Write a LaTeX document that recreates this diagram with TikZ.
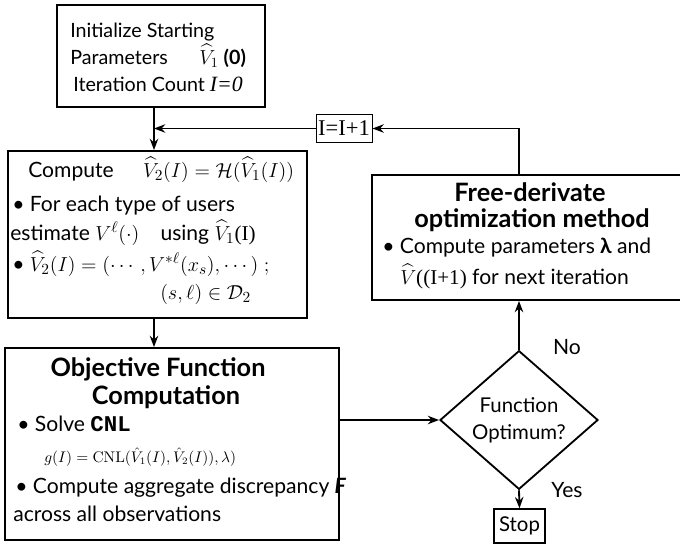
\documentclass[tikz,border=0pt]{standalone}
\usepackage[no-math]{fontspec}
\usepackage{amsmath}
\usepackage{tikz}
\setmainfont{Lato}
\newfontfamily\serif{Liberation Serif}
\newfontfamily\cnlfont{Liberation Mono}
\usetikzlibrary{shapes.geometric, arrows.meta, positioning, calc}

\begin{document}
\begin{tikzpicture}[x=0.025cm, y=-0.025cm,
  box/.style={draw, line width=1.3pt, inner sep=0pt},
  tagbox/.style={draw, line width=0.7pt, inner sep=0pt, font=\serif\fontsize{16}{16}\selectfont},
  txt/.style={anchor=base west, inner sep=0pt, font=\fontsize{15}{17}\selectfont},
  head/.style={anchor=base, inner sep=0pt, font=\fontsize{18}{20}\selectfont\bfseries},
  decision/.style={diamond, draw, line width=1.3pt, inner sep=0pt, align=center, font=\fontsize{14.5}{19}\selectfont},
  arrow/.style={-{Stealth[length=8pt, width=6pt]}, line width=1.3pt},
  link/.style={line width=1.3pt}
]
  \useasboundingbox (0,0) rectangle (680,547);

  % Initialization
  \node[box, minimum width=5.2cm, minimum height=2.55cm] (init) at (161,56) {};
  \node[txt, font=\fontsize{14}{16}\selectfont] (initA) at (70,37) {Initialize Starting};
  \node[txt, font=\fontsize{14}{16}\selectfont] (initB) at (70,64) {Parameters\hspace{1.6em}$\widehat{V}_1$ \textbf{(0)}};
  \node[txt, font=\fontsize{14}{16}\selectfont] (initC) at (73,91) {Iteration Count {\serif\itshape\fontsize{15.5}{16}\selectfont I=0}};

  % Compute V2
  \node[box, minimum width=7.475cm, minimum height=4.175cm] (comp) at (157.5,234.5) {};
  \node[txt] (compA) at (28,177) {Compute\hspace{1.4em}$\widehat{V}_2(I) = \mathcal{H}(\widehat{V}_1(I))$};
  \node[txt] (compB) at (12,211) {\textbullet\ For each type of users};
  \node[txt] (compC) at (10,240) {estimate $V^{\ell}(\cdot)$\quad using $\widehat{V}_1${\serif(I)}};
  \node[txt] (compD) at (12,271) {\textbullet\ $\widehat{V}_2(I) = (\cdots, V^{*\ell}(x_s), \cdots)\;;$};
  \node[txt] (compE) at (160,299) {$(s,\ell) \in \mathcal{D}_2$};

  % Objective function
  \node[box, minimum width=8.35cm, minimum height=4.8cm] (obj) at (172,444) {};
  \node[head] (objA) at (158,376) {Objective Function};
  \node[head] (objB) at (166,404) {Computation};
  \node[txt] (objC) at (17,431) {\textbullet\ Solve {\cnlfont\bfseries\fontsize{16}{16}\selectfont CNL}};
  \node[txt, font=\fontsize{10.5}{12}\selectfont] (objD) at (44,462)
    {$g(I) = \mathrm{CNL}(\hat{V}_1(I), \hat{V}_2(I)), \lambda)$};
  \node[txt] (objE) at (15,493) {\textbullet\ Compute aggregate discrepancy \textbf{\textit{F}}};
  \node[txt] (objF) at (13,521) {across all observations};

  % Update of the counter
  \node[tagbox, minimum width=1.4cm, minimum height=0.7cm] (incr) at (344,128.5) {I=I+1};

  % Free-derivate step
  \node[box, minimum width=7.8cm, minimum height=3.125cm] (free) at (528,237.5) {};
  \node[head] (freeA) at (530,201) {Free-derivate};
  \node[head] (freeB) at (532,227) {optimization method};
  \node[txt] (freeC) at (382,253) {\textbullet\ Compute parameters \textbf{λ} and};
  \node[txt] (freeD) at (400,284) {$\widehat{V}${\serif((I+1)} for next iteration};

  % Decision and stop
  \node[decision, minimum width=3.95cm, minimum height=2.625cm] (opt) at (519,420) {Function\\Optimum?};
  \node[txt, anchor=center] (no) at (567,347) {No};
  \node[txt, anchor=center] (yes) at (567,490) {Yes};
  \node[draw, line width=1pt, minimum width=1.275cm, minimum height=0.85cm, font=\fontsize{14.5}{16}\selectfont] (stop) at (519.5,526) {Stop};

  % Arrows
  \coordinate (axis) at (154,0);
  \draw[arrow] (init.south -| axis) -- (comp.north -| axis);
  \draw[arrow] (incr.west) -- (incr.west -| axis);
  \draw[arrow] (comp.south -| axis) -- (obj.north -| axis);
  \draw[arrow] (obj.east |- opt.west) -- (opt.west);
  \draw[arrow] (opt.north) -- (opt.north |- free.south);
  \draw[arrow] (opt.south) -- (stop.north);
  \draw[arrow] (opt.north |- free.north) |- (incr.east);
\end{tikzpicture}
\end{document}
